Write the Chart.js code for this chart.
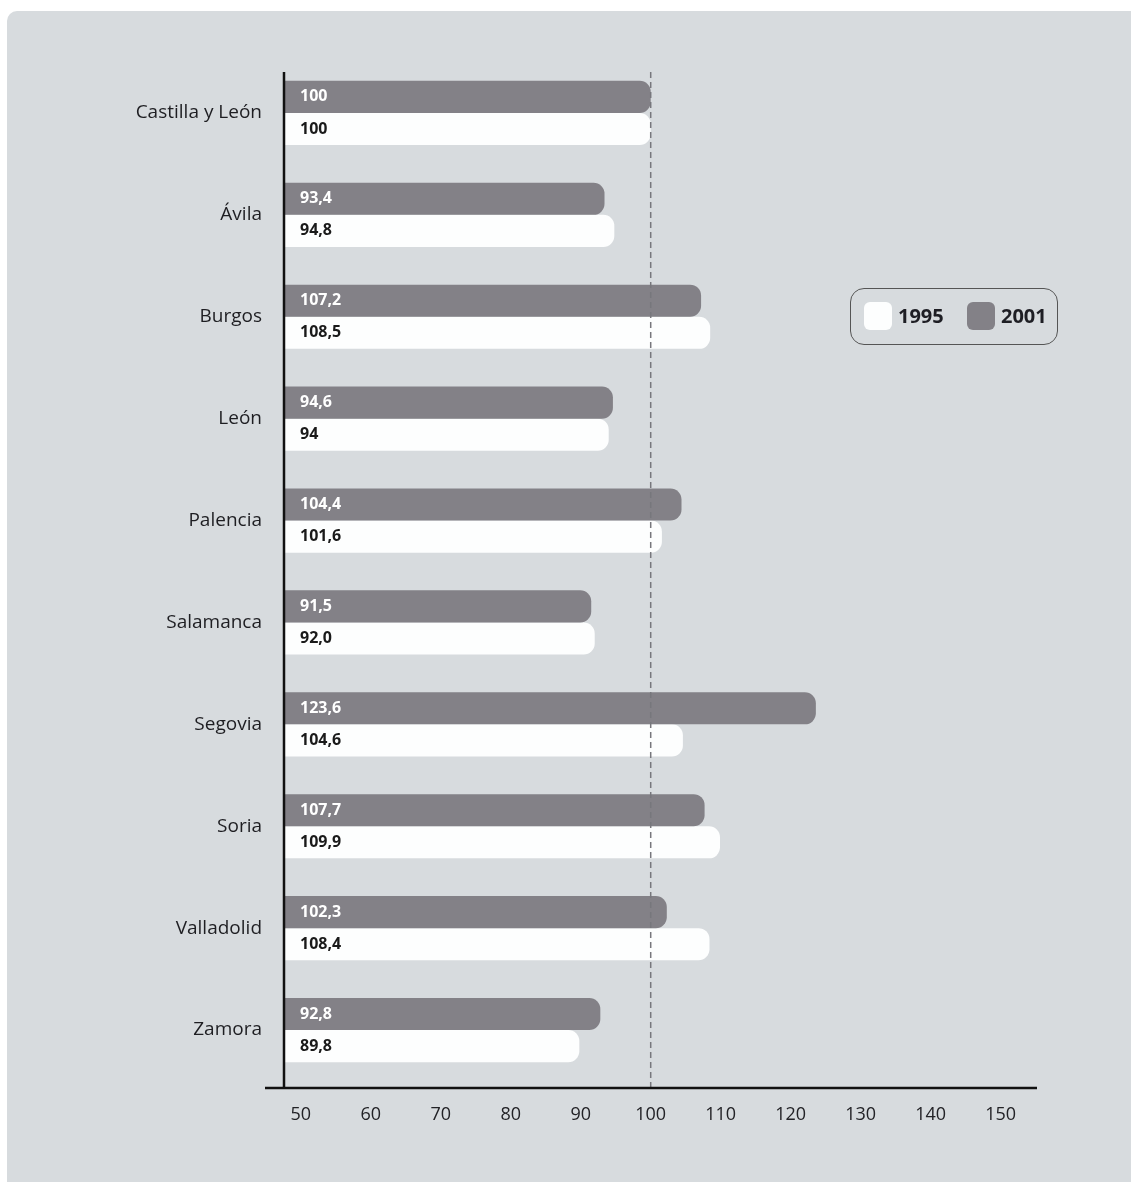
<!DOCTYPE html>
<html>
<head>
<meta charset="utf-8">
<script src="https://cdn.jsdelivr.net/npm/chart.js@4.4.1/dist/chart.umd.min.js"></script>
<style>
  body { margin: 0; background: #ffffff; }
  #panel {
    position: absolute; left: 7px; top: 11px; width: 1124px; height: 1171px;
    background: #d7dbde; border-radius: 10px 0 0 0;
  }
  #wrap { position: absolute; left: 0; top: 0; width: 1131px; height: 1182px; }
  #legend {
    position: absolute; left: 850px; top: 288px; width: 208px; height: 57px;
    border: 1px solid #555; border-radius: 14px; box-sizing: border-box;
    font-family: "Open Sans", sans-serif; font-weight: 700; font-size: 20px; color: #1e1e24;
  }
  #legend .sw { position: absolute; top: 13px; width: 28px; height: 28px; border-radius: 6px; }
  #legend .lb { position: absolute; top: 13px; line-height: 28px; }
</style>
</head>
<body>
<div id="panel"></div>
<div id="wrap"><canvas id="myChart" width="1131" height="1182"></canvas></div>
<div id="legend">
  <div class="sw" style="left:13px;background:#fdfefe"></div><span class="lb" style="left:47px">1995</span>
  <div class="sw" style="left:116px;background:#838187"></div><span class="lb" style="left:150px">2001</span>
</div>
<script>
const provinces = ["Castilla y León", "Ávila", "Burgos", "León", "Palencia", "Salamanca", "Segovia", "Soria", "Valladolid", "Zamora"];
const values2001 = [100, 93.4, 107.2, 94.6, 104.4, 91.5, 123.6, 107.7, 102.3, 92.8];
const values1995 = [100, 94.8, 108.5, 94, 101.6, 92.0, 104.6, 109.9, 108.4, 89.8];
const labels2001 = ["100", "93,4", "107,2", "94,6", "104,4", "91,5", "123,6", "107,7", "102,3", "92,8"];
const labels1995 = ["100", "94,8", "108,5", "94", "101,6", "92,0", "104,6", "109,9", "108,4", "89,8"];
const xTicks = [50, 60, 70, 80, 90, 100, 110, 120, 130, 140, 150];
const refValue = 100;

// axis lines, dashed 100 line and the value labels inside the bars
const extras = {
  id: "extras",
  afterDatasetsDraw(chart) {
    const ctx = chart.ctx;
    const area = chart.chartArea;
    const x = chart.scales.x;
    ctx.save();
    // dashed reference line
    const xr = x.getPixelForValue(refValue);
    ctx.strokeStyle = "#77777c";
    ctx.lineWidth = 1.5;
    ctx.setLineDash([6, 4]);
    ctx.beginPath();
    ctx.moveTo(xr, 72);
    ctx.lineTo(xr, 1088);
    ctx.stroke();
    ctx.setLineDash([]);
    // axes
    ctx.strokeStyle = "#111111";
    ctx.lineWidth = 2.5;
    ctx.beginPath();
    ctx.moveTo(area.left, 72);
    ctx.lineTo(area.left, 1088);
    ctx.moveTo(265, 1088);
    ctx.lineTo(area.right, 1088);
    ctx.stroke();
    // value labels
    ctx.font = "bold 16px 'Open Sans', sans-serif";
    ctx.textBaseline = "middle";
    const sets = [[labels2001, "#ffffff"], [labels1995, "#1a1a1a"]];
    sets.forEach((s, i) => {
      chart.getDatasetMeta(i).data.forEach((bar, j) => {
        ctx.fillStyle = s[1];
        ctx.fillText(s[0][j], area.left + 16, bar.y);
      });
    });
    ctx.restore();
  }
};

const ctx = document.getElementById("myChart").getContext("2d");
const myChart = new Chart(ctx, {
  type: "bar",
  data: {
    labels: provinces,
    datasets: [
      {
        label: "2001",
        data: values2001,
        backgroundColor: "#838187",
        borderRadius: 11,
        borderSkipped: "start",
      },
      {
        label: "1995",
        data: values1995,
        backgroundColor: "#fdfefe",
        borderRadius: 11,
        borderSkipped: "start",
      },
    ],
  },
  options: {
    indexAxis: "y",
    responsive: false,
    animation: false,
    maintainAspectRatio: false,
    layout: { padding: { top: 62, right: 94, bottom: 0, left: 0 } },
    datasets: { bar: { barPercentage: 1, categoryPercentage: 0.63 } },
    plugins: { legend: { display: false }, tooltip: { enabled: false } },
    scales: {
      x: {
        min: 47.6,
        max: 155.2,
        grid: { display: false },
        border: { display: false },
        afterBuildTicks: (scale) => { scale.ticks = xTicks.map(v => ({ value: v })); },
        afterFit: (scale) => { scale.height = 101; },
        ticks: {
          padding: 15,
          color: "#222226",
          font: { family: "'Open Sans', sans-serif", size: 18 },
          maxRotation: 0,
        },
      },
      y: {
        grid: { display: false },
        border: { display: false },
        afterFit: (scale) => { scale.width = 284; },
        ticks: {
          padding: 14,
          color: "#1e1e22",
          font: { family: "'Open Sans', sans-serif", size: 19, weight: "500" },
        },
      },
    },
  },
  plugins: [extras],
});
</script>
</body>
</html>
